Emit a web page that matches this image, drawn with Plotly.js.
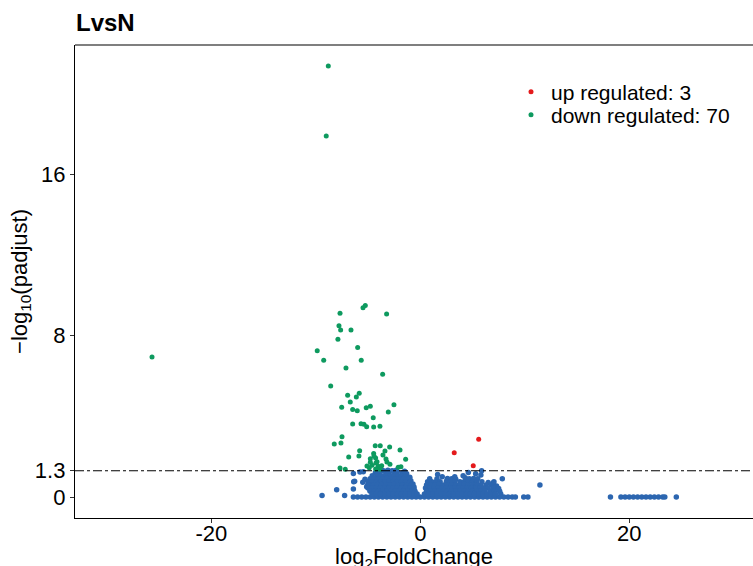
<!DOCTYPE html>
<html>
<head>
<meta charset="utf-8">
<script src="https://cdn.plot.ly/plotly-3.0.1.min.js"></script>
<style>html,body{margin:0;padding:0;background:#fff;overflow:hidden;}#chart{width:753px;height:578px;}</style>
</head>
<body>
<div id="chart"></div>
<script>
// ---- data ----
var upX = [5.59, 3.25, 5.07];
var upY = [2.86, 2.19, 1.55];

var downX = [-8.80, -9.00, -25.67, -5.26, -5.48, -7.68, -3.22, -7.78, -7.62, -6.63,
  -7.88, -9.86, -5.99, -9.24, -5.65, -7.11, -3.60, -8.57, -5.84, -6.95,
  -6.12, -6.70, -7.52, -6.47, -6.03, -5.17, -4.78, -2.52, -3.06, -4.50,
  -6.47, -5.67, -5.39, -5.13, -4.46, -3.86, -7.49, -7.59, -8.23, -4.31,
  -3.83, -2.93, -5.80, -3.38, -1.94, -4.46, -6.85, -5.87, -4.78, -4.27,
  -3.28, -1.40, -4.78, -4.14, -3.19, -4.62, -4.02, -3.69, -2.90, -4.88,
  -7.68, -7.18, -4.27, -3.86, -2.11, -1.85, -4.43, -3.57, -4.24, -5.10];
var downY = [21.35, 17.88, 6.93, 9.49, 9.38, 9.10, 9.06, 8.48, 8.27, 8.27,
  7.81, 7.25, 7.41, 6.77, 6.77, 6.39, 6.08, 5.50, 5.14, 5.04,
  4.95, 4.71, 4.44, 4.34, 4.27, 4.42, 4.49, 4.57, 4.21, 3.93,
  3.62, 3.63, 3.60, 3.48, 3.47, 3.50, 2.99, 2.67, 2.63, 2.54,
  2.54, 2.48, 2.29, 2.28, 2.33, 2.16, 1.98, 2.03, 1.90, 1.93,
  1.88, 1.87, 1.72, 1.75, 1.73, 1.57, 1.52, 1.55, 1.62, 1.45,
  1.44, 1.37, 1.39, 1.37, 1.47, 1.50, 2.03, 2.08, 1.68, 1.54];

// not significant genes (blue): baseline row at 0
var nsZeroX = [-6.4, -6.0, -5.6, -5.2, -4.8, -4.4, -4.0, -3.6, -3.2, -2.8, -2.4, -2.0, -1.6, -1.2, -0.8, -0.4,
  0.0, 0.4, 0.8, 1.2, 1.6, 2.0, 2.4, 2.8, 3.2, 3.6, 4.0, 4.4, 4.8, 5.2, 5.6, 6.0, 6.4, 6.8, 7.2, 7.6,
  8.0, 8.4, 8.8, 9.1, 9.9, 10.3, 18.2, 19.2, 19.6, 20.0, 20.4, 20.8, 21.2, 21.6, 22.0, 22.4, 22.8,
  23.2, 23.4, 24.5];
// blue cloud points
var nsX = [
  -9.4, -8.0, -7.24, -6.40, -6.28, -6.37, -6.40, -5.77, -5.45, -5.50, -5.29, -5.13, -5.03, -4.80,
  -4.3, -3.9, -3.4, -3.0, -2.6, -2.2, -1.7, -1.3,
  -4.6, -4.1, -3.7, -3.3, -2.9, -2.5, -2.1, -1.8, -1.4, -1.0,
  -4.8, -4.4, -4.0, -3.6, -3.2, -2.8, -2.4, -2.0, -1.6, -1.2, -0.9,
  -5.0, -4.6, -4.2, -3.8, -3.4, -3.0, -2.6, -2.2, -1.8, -1.4, -1.0, -0.7,
  -4.9, -4.5, -4.1, -3.7, -3.3, -2.9, -2.5, -2.1, -1.7, -1.3, -0.9, -0.6,
  -5.0, -4.6, -4.2, -3.8, -3.4, -3.0, -2.6, -2.2, -1.8, -1.4, -1.0, -0.6,
  -4.8, -4.4, -4.0, -3.6, -3.2, -2.8, -2.4, -2.0, -1.6, -1.2, -0.8, -0.5,
  -4.6, -4.2, -3.8, -3.4, -3.0, -2.6, -2.2, -1.8, -1.4, -1.0, -0.6, -0.3,
  1.6, 2.6, 3.0, 3.4, 4.3, 4.7, 5.1, 5.5,
  0.7, 1.1, 1.5, 1.9, 2.5, 2.9, 3.3, 3.8, 4.2, 4.6, 5.0, 5.4, 5.9, 6.5, 7.0,
  0.6, 1.0, 1.4, 1.8, 2.2, 2.6, 3.0, 3.4, 3.8, 4.2, 4.6, 5.0, 5.4, 5.8, 6.3, 6.8, 7.3,
  0.5, 0.9, 1.3, 1.7, 2.1, 2.5, 2.9, 3.3, 3.7, 4.1, 4.5, 4.9, 5.3, 5.7, 6.1, 6.5, 7.0, 7.5,
  0.6, 1.0, 1.4, 1.8, 2.2, 2.6, 3.0, 3.4, 3.8, 4.2, 4.6, 5.0, 5.4, 5.8, 6.2, 6.7, 7.1, 7.6,
  0.4, 0.8, 1.2, 1.6, 2.0, 2.4, 2.8, 3.2, 3.6, 4.0, 4.4, 4.8, 5.2, 5.6, 6.0, 6.4, 6.8, 7.2, 7.7,
  1.66, 3.3, 4.6, 5.8, 5.87, 7.05, 7.85, 11.45, 2.1, 4.1, 5.3, 0.9,
  -3.1, -2.7, -2.3, -1.5, -3.6, -4.1];
var nsY = [
  0.08, 0.36, 0.08, 1.17, 0.78, 0.76, 0.40, 1.24, 1.25, 0.73, 0.88, 0.51, 0.59, 0.30,
  1.2, 1.25, 1.28, 1.22, 1.27, 1.24, 1.2, 1.15,
  1.05, 1.08, 1.05, 1.1, 1.05, 1.08, 1.05, 1.06, 1.02, 0.98,
  0.9, 0.92, 0.9, 0.9, 0.93, 0.9, 0.9, 0.92, 0.9, 0.88, 0.8,
  0.75, 0.75, 0.76, 0.75, 0.75, 0.78, 0.75, 0.75, 0.76, 0.75, 0.72, 0.65,
  0.6, 0.6, 0.62, 0.6, 0.6, 0.6, 0.62, 0.6, 0.6, 0.6, 0.58, 0.5,
  0.45, 0.45, 0.45, 0.46, 0.45, 0.45, 0.45, 0.46, 0.45, 0.45, 0.44, 0.4,
  0.3, 0.3, 0.3, 0.3, 0.31, 0.3, 0.3, 0.3, 0.3, 0.3, 0.3, 0.28,
  0.15, 0.15, 0.15, 0.15, 0.16, 0.15, 0.15, 0.15, 0.15, 0.15, 0.15, 0.15,
  0.9, 0.92, 0.9, 0.88, 0.95, 0.9, 0.92, 0.9,
  0.75, 0.75, 0.76, 0.75, 0.78, 0.75, 0.75, 0.76, 0.75, 0.78, 0.75, 0.75, 0.76, 0.72, 0.7,
  0.6, 0.6, 0.6, 0.62, 0.6, 0.6, 0.6, 0.6, 0.6, 0.62, 0.6, 0.6, 0.6, 0.6, 0.6, 0.6, 0.55,
  0.45, 0.45, 0.46, 0.45, 0.45, 0.45, 0.45, 0.46, 0.45, 0.45, 0.45, 0.45, 0.45, 0.46, 0.45, 0.45, 0.45, 0.42,
  0.3, 0.3, 0.3, 0.31, 0.3, 0.3, 0.3, 0.3, 0.3, 0.3, 0.3, 0.3, 0.31, 0.3, 0.3, 0.3, 0.3, 0.28,
  0.15, 0.15, 0.15, 0.15, 0.16, 0.15, 0.15, 0.15, 0.15, 0.15, 0.15, 0.15, 0.15, 0.15, 0.15, 0.15, 0.15, 0.15, 0.15,
  1.12, 1.0, 1.22, 1.09, 1.30, 0.76, 0.91, 0.59, 1.0, 1.05, 1.15, 0.9,
  1.32, 1.30, 1.33, 1.28, 1.31, 1.27];

var upCount = upX.length, downCount = downX.length;
var xTicks = [-20, 0, 20];
var xTickText = ['-20', '0', '20'];
var yTicks = [0, 1.3, 8, 16];
var yTickText = ['0', '1.3', '8', '16'];
var cutoff = 1.3;

var RED = '#E41A1C', GREEN = '#0E9A5F', BLUE = '#2C66B0';
var FONT = 'Liberation Sans, Arial, Helvetica, sans-serif';

var traces = [
  {x: nsZeroX.concat(nsX), y: nsZeroX.map(function(){return 0;}).concat(nsY), type: 'scatter', mode: 'markers',
   marker: {color: BLUE, size: 5.5}, showlegend: false, hoverinfo: 'skip'},
  {x: upX, y: upY, type: 'scatter', mode: 'markers', name: 'up regulated: ' + upCount,
   marker: {color: RED, size: 5}, legend: 'legend'},
  {x: downX, y: downY, type: 'scatter', mode: 'markers', name: 'down regulated: ' + downCount,
   marker: {color: GREEN, size: 5}, legend: 'legend2'}
];

var plotTop = 45, plotH = 473, plotL = 75, plotW = 678, figH = 572;
function legendBox(cy) {
  return {x: (511 - plotL) / plotW, xanchor: 'left', y: 1 - (cy - plotTop) / plotH, yanchor: 'middle',
          font: {size: 21, color: '#000'}, bgcolor: 'rgba(0,0,0,0)', borderwidth: 0};
}

var layout = {
  width: 753, height: figH,
  margin: {l: plotL, r: 0, t: plotTop, b: figH - plotTop - plotH, pad: 0},
  paper_bgcolor: '#fff', plot_bgcolor: '#fff',
  font: {family: FONT, color: '#000', size: 22},
  title: {text: '<b>LvsN</b>', x: 76/753, xanchor: 'left', y: 1 - 23/figH, yanchor: 'middle',
          font: {family: FONT, size: 24, color: '#000'}},
  xaxis: {range: [-33.04, 31.84], tickvals: xTicks, ticktext: xTickText, showgrid: false, zeroline: false,
          showline: true, linecolor: '#000', linewidth: 1.2, ticks: 'outside', ticklen: 4, tickcolor: '#333',
          ticklabelstandoff: -9,
          tickfont: {size: 22, color: '#000'},
          title: {text: 'log<sub>2</sub>FoldChange', font: {size: 22, color: '#000'}, standoff: 2}},
  yaxis: {range: [-1.04, 22.39], tickvals: yTicks, ticktext: yTickText, showgrid: false, zeroline: false,
          showline: true, linecolor: '#000', linewidth: 1.2, ticks: 'outside', ticklen: 4, tickcolor: '#333',
          tickfont: {size: 22, color: '#000'},
          title: {text: '\u2212log<sub>10</sub>(padjust)', font: {size: 22, color: '#000'}, standoff: 1}},
  shapes: [
    {type: 'line', xref: 'paper', yref: 'y', x0: 0, x1: 1, y0: cutoff, y1: cutoff,
     line: {color: '#000', width: 1, dash: 'dashdot'}},
    {type: 'line', xref: 'paper', yref: 'paper', x0: 0, x1: 1, y0: 1, y1: 1,
     line: {color: '#555', width: 1.5}}
  ],
  legend: legendBox(92),
  legend2: legendBox(115),
  showlegend: true
};

Plotly.newPlot('chart', traces, layout, {displayModeBar: false, staticPlot: true});
</script>
</body>
</html>
